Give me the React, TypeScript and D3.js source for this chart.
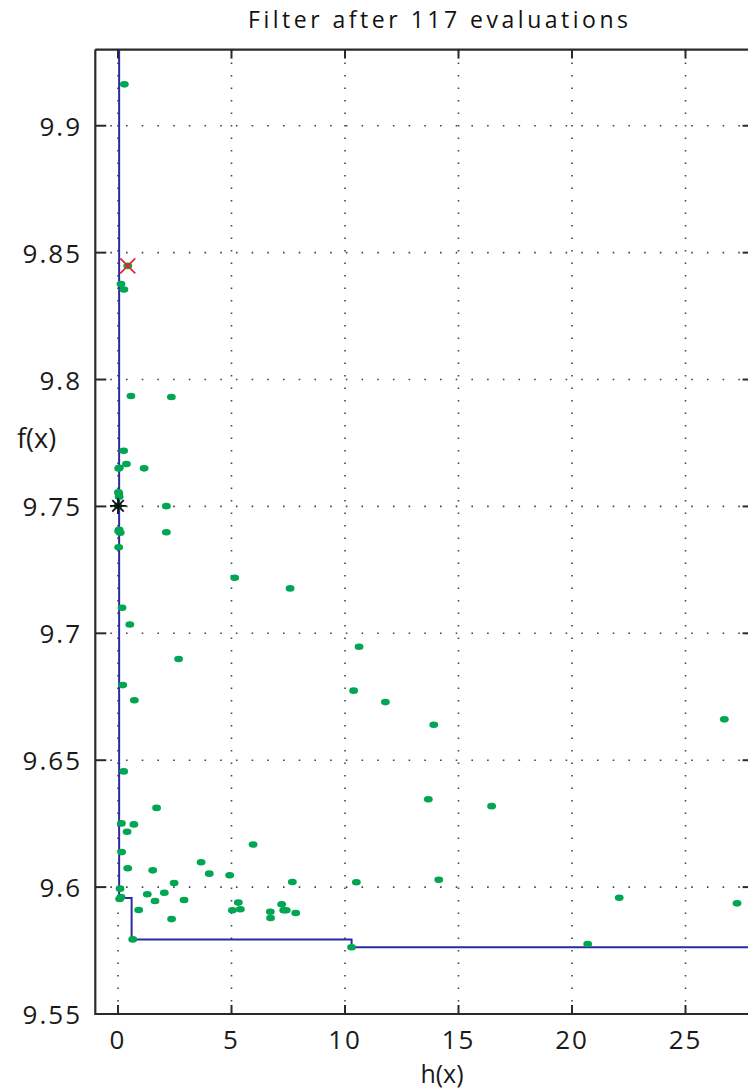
import React from "react";
import * as d3 from "d3";

// green points: constraint violation h(x), objective f(x)
const hValues = [
  0.28, 0.43, 0.13, 0.26, 0.57, 2.35, 0.25, 0.37, 0.03, 0.06, 1.15, 0.04, 0.05, 0.02, 0.0,
  2.13, 0.03, 0.1, 0.05, 2.13, 0.03, 5.14, 7.58, 0.18, 0.52, 2.67, 0.21, 0.72, 10.62, 10.38,
  11.78, 13.91, 26.71, 0.25, 13.67, 16.46, 1.7, 0.15, 0.7, 0.4, 5.95, 0.16, 3.66, 0.43, 1.53,
  4.02, 4.92, 2.47, 7.68, 10.5, 14.13, 0.09, 1.29, 2.04, 0.13, 0.07, 1.63, 2.91, 5.3, 7.21,
  0.91, 5.04, 5.39, 7.3, 7.41, 6.71, 7.83, 6.72, 2.36, 0.65, 10.29, 20.69, 22.08, 27.27,
];
const fValues = [
  9.9163, 9.8448, 9.8376, 9.8355, 9.7935, 9.7931, 9.7719, 9.7667, 9.7649, 9.7652, 9.765, 9.755,
  9.7538, 9.7556, 9.7502, 9.7501, 9.7402, 9.7396, 9.7408, 9.7398, 9.7339, 9.7219, 9.7177,
  9.7101, 9.7035, 9.6899, 9.6796, 9.6736, 9.6947, 9.6774, 9.6729, 9.664, 9.6661, 9.6456,
  9.6346, 9.6319, 9.6312, 9.6251, 9.6247, 9.6218, 9.6168, 9.6138, 9.6098, 9.6074, 9.6066,
  9.6053, 9.6047, 9.6016, 9.602, 9.6019, 9.6029, 9.5994, 9.5972, 9.5978, 9.5961, 9.5953,
  9.5945, 9.5949, 9.5939, 9.5932, 9.591, 9.5909, 9.5913, 9.5909, 9.5909, 9.5903, 9.5898,
  9.5878, 9.5874, 9.5794, 9.5763, 9.5776, 9.5958, 9.5936,
];

// filter envelope corner points
const filterH = [0.05, 0.6, 10.29];
const filterF = [9.5957, 9.5794, 9.5763];

// special markers
const bestFeasible = { h: 0.0, f: 9.7502 }; // black asterisk
const bestInfeasible = { h: 0.43, f: 9.8448 }; // red cross

const xTicks = [0, 5, 10, 15, 20, 25];
const yTicks = [9.55, 9.6, 9.65, 9.7, 9.75, 9.8, 9.85, 9.9];
const yTickLabels = ["9.55", "9.6", "9.65", "9.7", "9.75", "9.8", "9.85", "9.9"];
const xDomain = [-1, 28];
const yDomain = [9.55, 9.93];

const title = "Filter after 117 evaluations";
const xLabel = "h(x)";
const yLabel = "f(x)";

export default function App() {
  const W = 748;
  const H = 1089;
  const left = 95.3;
  const right = 753.6;
  const top = 49.6;
  const bottom = 1014;
  const x = d3.scaleLinear().domain(xDomain).range([left, right]);
  const y = d3.scaleLinear().domain(yDomain).range([bottom, top]);

  const stepPts: [number, number][] = [[filterH[0], yDomain[1] + 0.01]];
  filterH.forEach((h, i) => stepPts.push([h, filterF[i]]));
  stepPts.push([xDomain[1], filterF[filterF.length - 1]]);
  const stepLine = d3
    .line<[number, number]>()
    .x((d) => x(d[0]))
    .y((d) => y(d[1]))
    .curve(d3.curveStepAfter);

  const font = "'Open Sans', 'DejaVu Sans', sans-serif";
  const axisColor = "#2a2a2a";
  const gridColor = "#444";
  const ax = x(bestFeasible.h);
  const ay = y(bestFeasible.f);
  const rx = x(bestInfeasible.h);
  const ry = y(bestInfeasible.f);
  const s = 8;

  return (
    <svg
      width={W}
      height={H}
      style={{ position: "absolute", left: 0, top: 0, background: "#fff" }}
    >
      <defs>
        <clipPath id="plot">
          <rect x={left} y={top} width={right - left} height={bottom - top} />
        </clipPath>
      </defs>
      <rect x={0} y={0} width={W} height={H} fill="#fff" />

      {/* grid */}
      <g>
        {xTicks.map((t) => (
          <line
            key={"gx" + t}
            x1={x(t)}
            x2={x(t)}
            y1={bottom}
            y2={top}
            stroke={gridColor}
            strokeWidth={1.6}
            strokeDasharray="1.6,10.9"
          />
        ))}
        {yTicks
          .filter((t) => t > yDomain[0])
          .map((t) => (
            <line
              key={"gy" + t}
              x1={left + 15}
              x2={right}
              y1={y(t)}
              y2={y(t)}
              stroke={gridColor}
              strokeWidth={1.6}
              strokeDasharray="1.6,14.1"
            />
          ))}
      </g>

      {/* filter envelope */}
      <path
        d={stepLine(stepPts) || ""}
        fill="none"
        stroke="#2b2ba0"
        strokeWidth={2}
        clipPath="url(#plot)"
      />

      {/* points */}
      <g clipPath="url(#plot)">
        {hValues.map((h, i) => (
          <ellipse
            key={i}
            cx={x(h)}
            cy={y(fValues[i])}
            rx={4.4}
            ry={3.3}
            fill="#00a651"
          />
        ))}
      </g>

      {/* asterisk */}
      <g stroke="#111" strokeWidth={1.8}>
        <line x1={ax - s} x2={ax + s} y1={ay} y2={ay} />
        <line x1={ax} x2={ax} y1={ay - s} y2={ay + s} />
        <line x1={ax - s * 0.72} x2={ax + s * 0.72} y1={ay - s * 0.72} y2={ay + s * 0.72} />
        <line x1={ax - s * 0.72} x2={ax + s * 0.72} y1={ay + s * 0.72} y2={ay - s * 0.72} />
      </g>
      {/* red cross */}
      <g stroke="#e8262a" strokeWidth={1.8}>
        <line x1={rx - 7.5} x2={rx + 7.5} y1={ry - 7.5} y2={ry + 7.5} />
        <line x1={rx - 7.5} x2={rx + 7.5} y1={ry + 7.5} y2={ry - 7.5} />
      </g>

      {/* axes frame */}
      <g stroke={axisColor} strokeWidth={2.2} fill="none">
        <line x1={left} x2={left} y1={top} y2={bottom + 1} />
        <line x1={left} x2={right} y1={bottom} y2={bottom} />
        <line x1={left} x2={right} y1={top} y2={top} />
        <line x1={right} x2={right} y1={top} y2={bottom} />
      </g>
      {/* ticks */}
      <g stroke={axisColor} strokeWidth={2}>
        {xTicks.map((t) => (
          <g key={"tx" + t}>
            <line x1={x(t)} x2={x(t)} y1={bottom} y2={bottom - 9} />
            <line x1={x(t)} x2={x(t)} y1={top} y2={top + 9} />
          </g>
        ))}
        {yTicks.map((t) => (
          <g key={"ty" + t}>
            <line x1={left} x2={left + 11} y1={y(t)} y2={y(t)} />
            <line x1={right} x2={right - 11} y1={y(t)} y2={y(t)} />
          </g>
        ))}
      </g>

      {/* tick labels */}
      <g fontFamily={font} fontSize={26} fill="#1a1a1a">
        {yTicks.map((t, i) => (
          <text
            key={"ly" + t}
            x={82}
            y={y(t)}
            textAnchor="end"
            dominantBaseline="central"
            letterSpacing={2}
          >
            {yTickLabels[i]}
          </text>
        ))}
        {xTicks.map((t) => (
          <text
            key={"lx" + t}
            x={x(t)}
            y={1049}
            textAnchor="middle"
            letterSpacing={2}
          >
            {t}
          </text>
        ))}
      </g>

      {/* labels */}
      <text
        x={248}
        y={28}
        textLength={380}
        lengthAdjust="spacing"
        fontFamily={font}
        fontSize={23}
        fill="#111"
      >
        {title}
      </text>
      <text x={442} y={1083} textAnchor="middle" fontFamily={font} fontSize={25} fill="#1a1a1a">
        {xLabel}
      </text>
      <text x={17} y={448} fontFamily={font} fontSize={27} fill="#1a1a1a">
        {yLabel}
      </text>
    </svg>
  );
}
